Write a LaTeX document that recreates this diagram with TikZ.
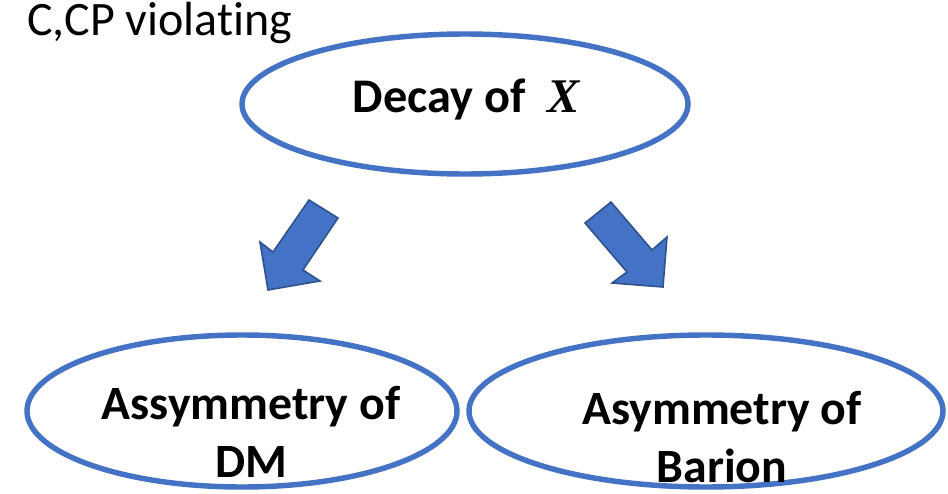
\documentclass[tikz,border=0pt]{standalone}
\usepackage{fontspec}
\setmainfont[Ligatures=NoCommon]{Carlito}
\newfontfamily\xfont{Liberation Serif}
\usetikzlibrary{calc}
\definecolor{ovalcol}{RGB}{68,114,196}
\definecolor{edgecol}{RGB}{47,82,143}
\tikzset{>=latex}
\tikzstyle{oval} = [draw=ovalcol, line width=3.1pt]
\tikzstyle{blockarrow} = [fill=ovalcol, draw=edgecol, line width=0.9pt, line join=miter]
\tikzstyle{bigtext} = [inner sep=0pt, align=center, font=\bfseries\fontsize{27.5}{33}\selectfont]
\tikzstyle{midtext} = [inner sep=0pt, align=center, font=\bfseries\fontsize{27.2}{33}\selectfont]

\begin{document}
\begin{tikzpicture}[x=0.02cm,y=-0.02cm]
  \useasboundingbox (0,0) rectangle (948,494);
  \coordinate (D) at (465,104);  % decay
  \coordinate (L) at (242,411);  % DM side
  \coordinate (R) at (706,411);  % baryon side

  % OVALS
  \draw[oval] (D) ellipse [x radius=223, y radius=70];
  \draw[oval] (L) ellipse [x radius=215, y radius=76];
  \draw[oval] (R) ellipse [x radius=237, y radius=76];

  % TEXT
  \node[anchor=base west, inner sep=0pt, font=\fontsize{27.3}{32}\selectfont]
    (cp) at (27,35) {C,CP violating};
  \node[bigtext, anchor=base] (decay) at (466,112) {Decay of\ \ {\xfont\itshape X}};
  % base of a two-line node is its last line
  \node[midtext, anchor=base] (dm) at (251,477) {Assymmetry of\\DM};
  \node[midtext, anchor=base] (bar) at (722,482) {Asymmetry of\\Barion};

  % BLOCK ARROWS
  \draw[blockarrow] (309,200) -- (338,218) -- (303,270) -- (320,281)
    -- (268,290) -- (260,242) -- (273,252) -- cycle;
  \draw[blockarrow] (611,202) -- (652,250) -- (667,237) -- (663,287)
    -- (612,283) -- (627,272) -- (585,223) -- cycle;
\end{tikzpicture}
\end{document}
